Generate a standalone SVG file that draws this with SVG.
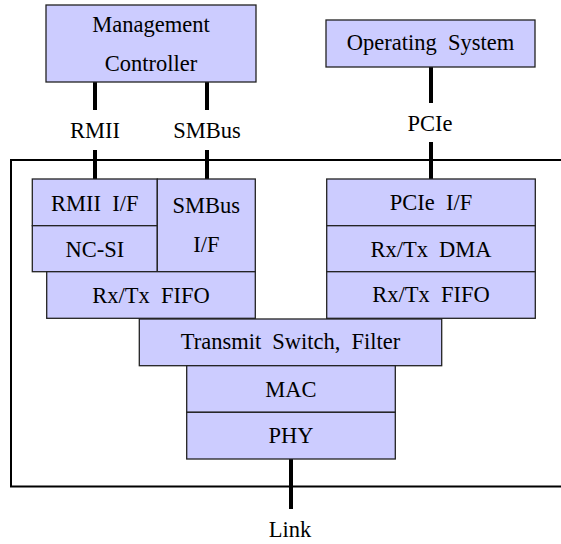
<svg xmlns="http://www.w3.org/2000/svg" width="561" height="544" viewBox="0 0 561 544">
<style>
.b{fill:#ccccff;stroke:#222;stroke-width:1.3}
.t{font-family:"Liberation Serif","Times New Roman",serif;font-size:22.5px;word-spacing:5.5px;fill:#000;text-anchor:middle}
.c{stroke:#000;stroke-width:4;fill:none}
.f{stroke:#000;stroke-width:2;fill:none}
</style>
<rect width="561" height="544" fill="#fff"/>
<g id="frame"><path class="f" d="M561,160 H11 V486.5 H561"/></g>
<g id="connectors">
<line class="c" x1="95" y1="82" x2="95" y2="110"/>
<line class="c" x1="95" y1="150" x2="95" y2="179"/>
<line class="c" x1="207" y1="82" x2="207" y2="110"/>
<line class="c" x1="207" y1="150" x2="207" y2="179"/>
<line class="c" x1="431" y1="67" x2="431" y2="103"/>
<line class="c" x1="431" y1="142" x2="431" y2="179"/>
<line class="c" x1="291" y1="459" x2="291" y2="509"/>
</g>
<g id="labels">
<text class="t" x="95" y="138">RMII</text>
<text class="t" x="207" y="138">SMBus</text>
<text class="t" x="430" y="131">PCIe</text>
<text class="t" x="290" y="537">Link</text>
</g>
<g id="mgmt"><rect class="b" x="46" y="5" width="210" height="77"/><text class="t" x="151" y="32">Management</text><text class="t" x="151" y="71">Controller</text></g>
<g id="os"><rect class="b" x="326" y="20" width="209" height="47"/><text class="t" x="430.5" y="50">Operating System</text></g>
<g id="rmii-if"><rect class="b" x="32.3" y="179" width="125" height="46.7"/><text class="t" x="94.8" y="211">RMII I/F</text></g>
<g id="ncsi"><rect class="b" x="32.3" y="225.7" width="125" height="46"/><text class="t" x="94.8" y="257">NC-SI</text></g>
<g id="smbus-if"><rect class="b" x="157.3" y="179" width="98" height="92.7"/><text class="t" x="206.3" y="213">SMBus</text><text class="t" x="206.3" y="252">I/F</text></g>
<g id="fifo-left"><rect class="b" x="46.7" y="271.7" width="208.6" height="46.6"/><text class="t" x="151" y="303">Rx/Tx FIFO</text></g>
<g id="pcie-if"><rect class="b" x="326.7" y="179" width="208.6" height="46.7"/><text class="t" x="431" y="210">PCIe I/F</text></g>
<g id="dma"><rect class="b" x="326.7" y="225.7" width="208.6" height="46"/><text class="t" x="431" y="257">Rx/Tx DMA</text></g>
<g id="fifo-right"><rect class="b" x="326.7" y="271.7" width="208.6" height="46.6"/><text class="t" x="431" y="302">Rx/Tx FIFO</text></g>
<g id="switch"><rect class="b" x="139.3" y="319" width="302.4" height="46.7"/><text class="t" x="290.5" y="349">Transmit Switch, Filter</text></g>
<g id="mac"><rect class="b" x="186.7" y="365.7" width="208.6" height="46.6"/><text class="t" x="291" y="397">MAC</text></g>
<g id="phy"><rect class="b" x="186.7" y="412.3" width="208.6" height="46.7"/><text class="t" x="291" y="443">PHY</text></g>
</svg>
